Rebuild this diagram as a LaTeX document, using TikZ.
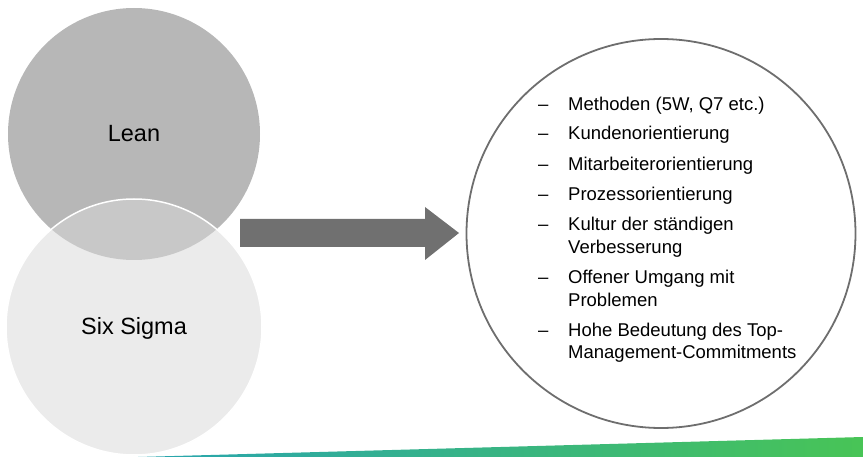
\documentclass[tikz,border=0pt]{standalone}
\usepackage{fontspec}
\setmainfont{Liberation Sans}
\definecolor{leanfill}{RGB}{183,183,183}
\definecolor{sixfill}{RGB}{235,235,235}
\definecolor{overfill}{RGB}{200,200,200}
\definecolor{arrowgray}{RGB}{112,112,112}
\definecolor{ringgray}{RGB}{110,110,110}
\definecolor{teal1}{RGB}{40,165,176}
\definecolor{green1}{RGB}{72,196,86}
\tikzset{
  bigcirc/.style={circle, inner sep=0pt, minimum size=#1},
  circlabel/.style={font=\fontsize{23.5}{28}\selectfont, text=black},
  dashitem/.style={anchor=base west, inner sep=0pt, font=\fontsize{18.5}{22}\selectfont},
}
\begin{document}
\begin{tikzpicture}[x=1pt,y=-1pt]
\useasboundingbox (0,0) rectangle (863,457);
% Lean circle
\node[bigcirc=252pt, fill=leanfill] (lean) at (134,134) {};
% Six Sigma circle
\node[bigcirc=256pt, fill=sixfill] (six) at (134,327) {};
% overlap
\begin{scope}
  \clip (134,134) circle[radius=126pt];
  \fill[overfill] (134,327) circle[radius=128pt];
\end{scope}
\draw[white, line width=1.5pt] (134,327) circle[radius=128pt];
\node[circlabel] (leanlabel) at (134,134) {Lean};
\node[circlabel] (sixlabel) at (134,328) {Six Sigma};
% block arrow
\fill[arrowgray] (240,219) -- (425,219) -- (425,207) -- (459,233) -- (425,260) -- (425,247) -- (240,247) -- cycle;
% right circle
\node[bigcirc=389pt, draw=ringgray, line width=1.8pt] (ring) at (661,233.5) {};
% list
\foreach \y/\t [count=\i] in {111/{Methoden (5W, Q7 etc.)}, 140/{Kundenorientierung}, 171/{Mitarbeiterorientierung}, 201/{Prozessorientierung}, 231/{Kultur der ständigen}, 284/{Offener Umgang mit}, 337/{Hohe Bedeutung des Top-}} {
  \node[dashitem] (dash\i) at (538,\y) {–};
  \node[dashitem] (item\i) at (568,\y) {\t};
}
\node[dashitem] (cont5) at (568,254) {Verbesserung};
\node[dashitem] (cont6) at (568,307) {Problemen};
\node[dashitem] (cont7) at (568,359) {Management-Commitments};
% gradient bar
\shade[left color=teal1, right color=green1] (138,457) -- (863,437) -- (863,457) -- cycle;
\end{tikzpicture}
\end{document}
